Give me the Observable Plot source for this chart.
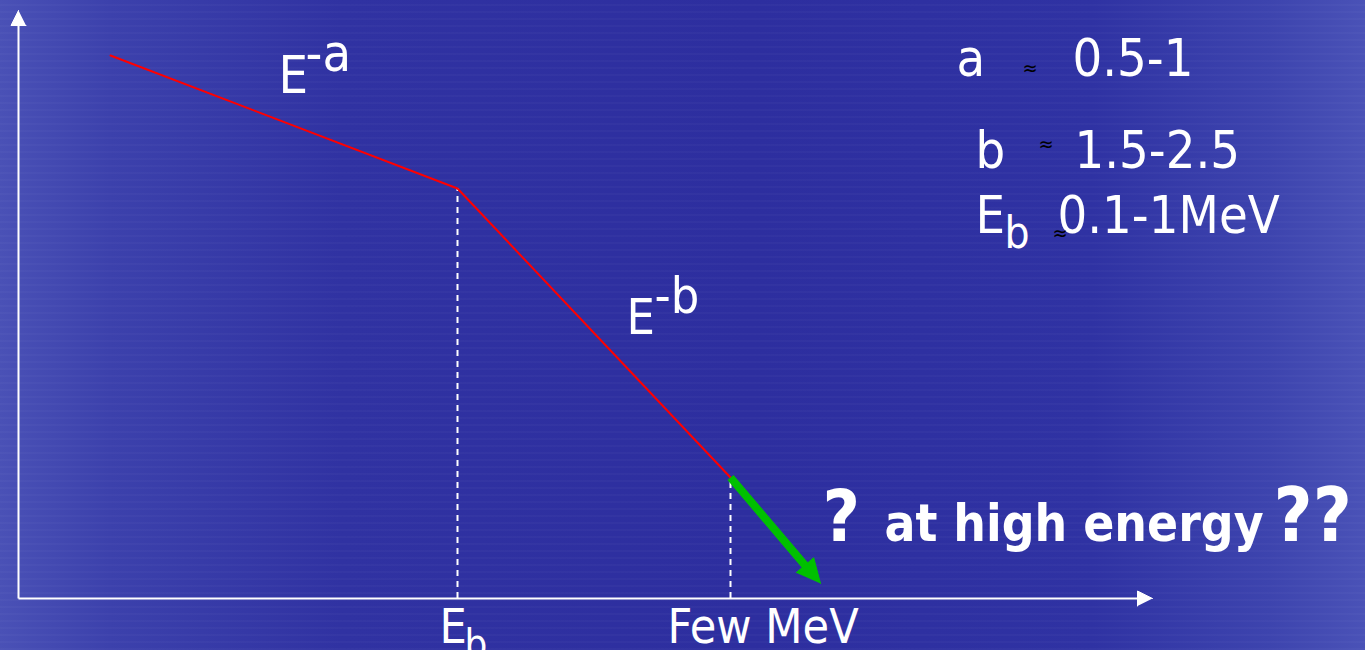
<!DOCTYPE html>
<html>
<head>
<meta charset="utf-8">
<script src="https://cdn.jsdelivr.net/npm/d3@7"></script>
<script src="https://cdn.jsdelivr.net/npm/@observablehq/plot@0.6"></script>
<style>
  html, body { margin: 0; padding: 0; width: 1365px; height: 650px; overflow: hidden; }
  body {
    background:
      repeating-linear-gradient(0deg, rgba(255,255,255,0.025) 0 2px, rgba(0,0,0,0) 2px 7px),
      linear-gradient(90deg, #4a51b6 0%, #3c41ac 8%, #3032a2 25%, #2d2e9f 55%, #2f32a3 80%, #3d44ae 93%, #4a52b7 100%);
  }
  #chart svg { display: block; }
</style>
</head>
<body>
<div id="chart"></div>
<script>
// ---- data (schematic log-energy units) ----
const spectrumLogE = [0.92, 4.39, 7.12];
const spectrumLogFlux = [10.86, 8.2, 2.42];
const breakLogE = [4.39, 7.12];          // E_b and "Few MeV"
const breakLogFlux = [8.2, 2.42];
const highEnergyFrom = [7.12, 2.42];
const highEnergyTo = [8.02, 0.30];
const axisLength = { x: 11.34, y: 11.76 };

// regular labels: text, x, y, size
const labelText   = ["E", "-a", "E", "-b", "a", "0.5-1", "b", "1.5-2.5", "E", "b", "0.1-1MeV", "E", "b", "Few MeV"];
const labelX      = [2.60, 2.87, 6.08, 6.36, 9.38, 10.54, 9.57, 10.56, 9.57, 9.86, 10.39, 4.21, 4.46, 6.49];
const labelY      = [10.12, 10.56, 5.30, 5.72, 10.46, 10.46, 8.62, 8.62, 7.32, 7.02, 7.32, -0.88, -1.18, -0.88];
const labelSize   = [52, 52, 50, 50, 52, 52, 52, 52, 52, 44, 52, 48, 40, 48];

// bold question labels
const boldText = ["?", "at high energy", "??"];
const boldX    = [8.04, 8.66, 12.55];
const boldY    = [1.16, 1.16, 1.16];
const boldSize = [72, 51, 75];

const approxX = [10.04, 10.20, 10.34];
const approxY = [10.60, 9.08, 7.30];

// ---- scales: 100 px per x unit, 50 px per y unit ----
const W = 1365, H = 650;
const xDomain = [-0.18, -0.18 + W / 100];
const yDomain = [-1.04, -1.04 + H / 50];
const pxX = 100, pxY = 50;

function head(tip, dir, len, wid, id) {
  const dxp = dir[0] * pxX, dyp = dir[1] * pxY;
  const n = Math.hypot(dxp, dyp);
  const ux = dxp / n, uy = dyp / n;
  const bx = -ux * len, by = -uy * len;
  const px = -uy * wid / 2, py = ux * wid / 2;
  return [
    {x: tip[0], y: tip[1], id},
    {x: tip[0] + (bx + px) / pxX, y: tip[1] + (by + py) / pxY, id},
    {x: tip[0] + (bx - px) / pxX, y: tip[1] + (by - py) / pxY, id}
  ];
}
function shaft(from, to, len) {
  const dxp = (to[0] - from[0]) * pxX, dyp = (to[1] - from[1]) * pxY;
  const n = Math.hypot(dxp, dyp);
  const k = (n - len * 0.8) / n;
  return [{x: from[0], y: from[1]}, {x: from[0] + (to[0] - from[0]) * k, y: from[1] + (to[1] - from[1]) * k}];
}

const spectrum = spectrumLogE.map((e, i) => ({x: e, y: spectrumLogFlux[i]}));
const breaks = breakLogE.map((e, i) => ({x: e, y2: breakLogFlux[i]}));
const axisHeads = [
  ...head([axisLength.x, 0], [1, 0], 15, 15, "x"),
  ...head([0, axisLength.y], [0, 1], 15, 15, "y")
];
const greenDir = [highEnergyTo[0] - highEnergyFrom[0], highEnergyTo[1] - highEnergyFrom[1]];
const greenHead = head(highEnergyTo, greenDir, 24, 23, "g");
const greenShaft = shaft(highEnergyFrom, highEnergyTo, 24);
const labels = labelText.map((t, i) => ({t, x: labelX[i], y: labelY[i], s: labelSize[i]}));
const boldLabels = boldText.map((t, i) => ({t, x: boldX[i], y: boldY[i], s: boldSize[i]}));
const approx = approxX.map((x, i) => ({x, y: approxY[i]}));

const font = "'DejaVu Sans Condensed', 'DejaVu Sans', sans-serif";

const chart = Plot.plot({
  width: W, height: H,
  margin: 0,
  x: {domain: xDomain, axis: null},
  y: {domain: yDomain, axis: null},
  style: {background: "transparent", overflow: "visible", fontFamily: font},
  marks: [
    Plot.link([{x1: 0, y1: 0, x2: axisLength.x - 0.1, y2: 0}, {x1: 0, y1: 0, x2: 0, y2: axisLength.y - 0.2}],
      {x1: "x1", y1: "y1", x2: "x2", y2: "y2", stroke: "white", strokeWidth: 2}),
    Plot.line(axisHeads, {x: "x", y: "y", z: "id", fill: "white", stroke: "white", strokeWidth: 1}),
    Plot.ruleX(breaks, {x: "x", y1: 0, y2: "y2", stroke: "white", strokeWidth: 2, strokeDasharray: "6,5"}),
    Plot.line(spectrum, {x: "x", y: "y", stroke: "#ff0000", strokeWidth: 2}),
    Plot.line(greenShaft, {x: "x", y: "y", stroke: "#00c000", strokeWidth: 8, strokeLinecap: "butt"}),
    Plot.line(greenHead, {x: "x", y: "y", z: "id", fill: "#00c000", stroke: "#00c000", strokeWidth: 1}),
    Plot.text(labels, {x: "x", y: "y", text: "t", fontSize: "s",
      fill: "white", textAnchor: "start", lineAnchor: "bottom", fontFamily: font}),
    Plot.text(boldLabels, {x: "x", y: "y", text: "t", fontSize: "s", fontWeight: "bold",
      fill: "white", textAnchor: "start", lineAnchor: "bottom", fontFamily: font}),
    Plot.text(approx, {x: "x", y: "y", text: () => "≈", fontSize: 20, fill: "black",
      textAnchor: "start", lineAnchor: "middle", fontFamily: font})
  ]
});
document.getElementById("chart").appendChild(chart);
</script>
</body>
</html>
